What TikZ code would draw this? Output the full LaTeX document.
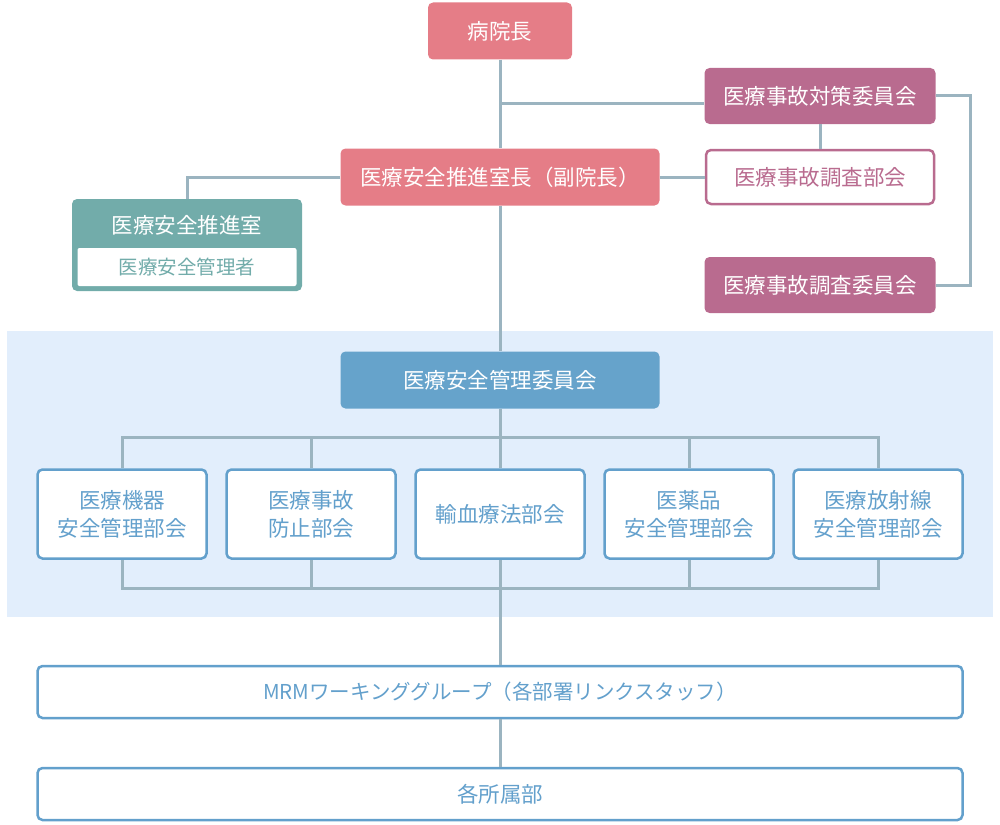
\documentclass[tikz,border=0pt]{standalone}
\usepackage{fontspec}
\setmainfont{Noto Sans CJK JP}
\definecolor{pinkbox}{RGB}{229,125,135}
\definecolor{plumbox}{RGB}{185,107,143}
\definecolor{tealbox}{RGB}{114,172,170}
\definecolor{bluebox}{RGB}{102,163,203}
\definecolor{blueline}{RGB}{99,160,204}
\definecolor{bandfill}{RGB}{226,238,252}
\definecolor{wirecol}{RGB}{155,180,192}
\begin{document}
\begin{tikzpicture}[x=1pt, y=-1pt,
	box/.style={rounded corners=5pt, inner sep=0pt, align=center, font=\fontsize{21.5}{28}\selectfont},
	head/.style={box, fill=pinkbox, text=white, minimum height=57pt},
	plum/.style={box, fill=plumbox, text=white, minimum width=231pt, minimum height=56pt},
	plumframe/.style={box, draw=plumbox, line width=2.5pt, fill=white, text=plumbox, minimum width=228pt, minimum height=54pt},
	unit/.style={box, draw=blueline, line width=2.5pt, fill=white, text=blueline, minimum width=169pt, minimum height=89pt},
	wide/.style={box, draw=blueline, line width=2.5pt, fill=white, text=blueline, minimum width=925pt, minimum height=52pt},
	wire/.style={draw=wirecol, line width=3pt}]
	\useasboundingbox (0,0) rectangle (1000,824);
	\fill[bandfill] (7,331) rectangle (993,617);
	\node[head, minimum width=144pt] at (500,31) (inchou) {病院長};
	\node[head, minimum width=319pt] at (500,177) (shitsucho) {医療安全推進室長（副院長）};
	\node[plum] at (820,96) (taisaku) {医療事故対策委員会};
	\node[plumframe] at (820,177) (chousabu) {医療事故調査部会};
	\node[plum] at (820,285) (chousai) {医療事故調査委員会};
	\node[box, fill=tealbox, minimum width=230pt, minimum height=92pt] at (187,245) (suishin) {};
	\node[box, text=white] at (187,225) (suishinname) {医療安全推進室};
	\node[box, rounded corners=2pt, fill=white, text=tealbox, minimum width=219pt, minimum height=38pt, font=\fontsize{19.5}{24}\selectfont] at (187,267) (kanrisha) {医療安全管理者};
	\node[box, fill=bluebox, text=white, minimum width=319pt, minimum height=57pt] at (500,380) (iinkai) {医療安全管理委員会};
	\foreach \x/\name/\txt in {122/kiki/{医療機器\\安全管理部会}, 311/jiko/{医療事故\\防止部会}, 500/yuketsu/{輸血療法部会}, 689/yakuhin/{医薬品\\安全管理部会}, 878/housha/{医療放射線\\安全管理部会}}
		\node[unit] at (\x,514) (\name) {\txt};
	\node[wide, font=\fontsize{20.5}{24}\selectfont] at (500,692) (mrm) {MRMワーキンググループ（各部署リンクスタッフ）};
	\node[wide] at (500,794) (shozoku) {各所属部};
	\coordinate (branch) at (500,104);
	\coordinate (bartop) at (500,437);
	\coordinate (barbot) at (500,588);
	\draw[wire]
	(inchou)--(shitsucho) (shitsucho)--(iinkai) (branch)--(branch -| taisaku.west)
	(shitsucho)--(chousabu) (taisaku)--(chousabu) (taisaku.east)--++(35,0) |- (chousai.east)
	(shitsucho.west) -| (suishin.north);
	\draw[wire]
	(iinkai)--(bartop) (kiki.north) |- (bartop) -| (housha.north)
	(jiko.north)--(jiko.north |- bartop) (yuketsu)--(bartop) (yakuhin.north)--(yakuhin.north |- bartop)
	(kiki.south) |- (barbot) -| (housha.south)
	(jiko.south)--(jiko.south |- barbot) (yuketsu)--(barbot) (yakuhin.south)--(yakuhin.south |- barbot)
	(barbot)--(mrm) (mrm)--(shozoku);
\end{tikzpicture}
\end{document}
